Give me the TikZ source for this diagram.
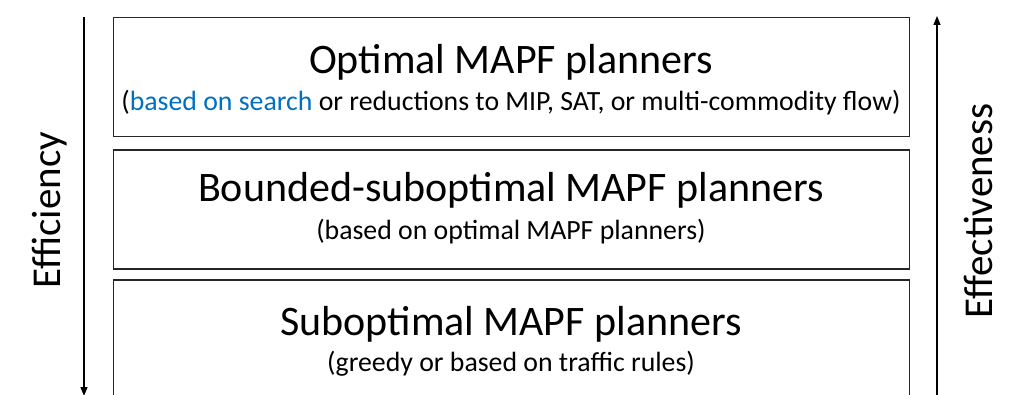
\documentclass[tikz,border=0pt]{standalone}
\usepackage{fontspec}
\setmainfont{Carlito}
\usetikzlibrary{arrows.meta}
\definecolor{offblue}{RGB}{0,112,192}
\begin{document}
\begin{tikzpicture}[x=1pt,y=-1pt,
  tier/.style={draw=black!85,line width=1.2pt,minimum width=796pt,anchor=north west,inner sep=0pt},
  titletext/.style={font=\fontsize{42}{48}\selectfont},
  subtext/.style={font=\fontsize{27.8}{32}\selectfont},
  axis/.style={draw=black,line width=1.4pt,-{Triangle[length=9pt,width=7pt]}},
  axislabel/.style={font=\fontsize{41}{48}\selectfont,rotate=90}]
\useasboundingbox (0,0) rectangle (1031,395);
\node[tier,minimum height=119pt] (b1) at (113,17) {};
\node[tier,minimum height=119pt] (b2) at (113,149.5) {};
\node[tier,minimum height=130pt] (b3) at (113,279.5) {};
\node[titletext] (t1) at (511,62) {Optimal MAPF planners};
\node[subtext] (s1) at (511,103) {(\textcolor{offblue}{based on search} or reductions to MIP, SAT, or multi-commodity flow)};
\node[titletext] (t2) at (511,190) {Bounded-suboptimal MAPF planners};
\node[subtext] (s2) at (511,232) {(based on optimal MAPF planners)};
\node[titletext] (t3) at (511,324) {Suboptimal MAPF planners};
\node[subtext] (s3) at (511,364) {(greedy or based on traffic rules)};
\coordinate (ltop) at (84,17);
\coordinate (lbot) at (84,396);
\coordinate (rtop) at (937,16);
\coordinate (rbot) at (937,400);
\draw[axis] (ltop) -- (lbot);
\draw[axis] (rbot) -- (rtop);
\node[axislabel] (eff) at (50,210) {Efficiency};
\node[axislabel] (efv) at (978,211) {Effectiveness};
\end{tikzpicture}
\end{document}
